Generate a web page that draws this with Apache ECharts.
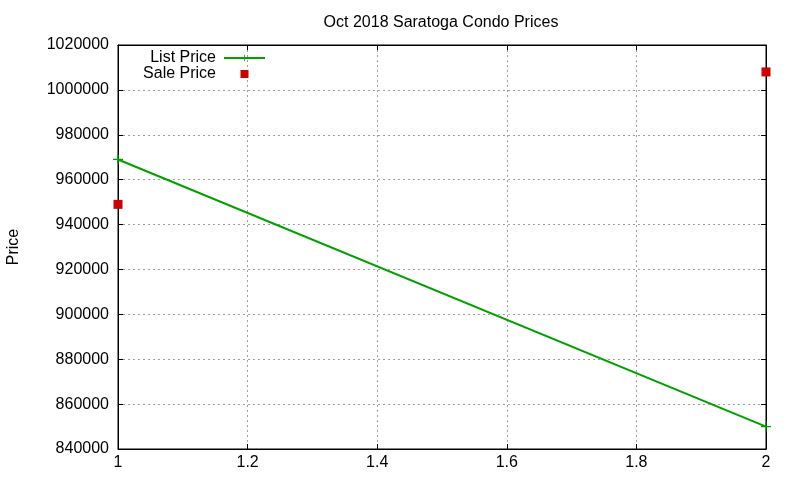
<!DOCTYPE html>
<html>
<head>
<meta charset="utf-8">
<script src="https://cdn.jsdelivr.net/npm/echarts@6/dist/echarts.min.js"></script>
<style>html,body{margin:0;padding:0;background:#fff}#c{width:800px;height:480px}</style>
</head>
<body>
<div id="c"></div>
<script>
const titleText = "Oct 2018 Saratoga Condo Prices";
const xValues = [1, 2];
const listPrice = [969000, 850000];
const salePrice = [949000, 1008000];
const xTicks = [1, 1.2, 1.4, 1.6, 1.8, 2];
const yMin = 840000, yMax = 1020000, yStep = 20000;

const FONT = "Liberation Sans, Arial, sans-serif";
const FS = 16;
const chart = echarts.init(document.getElementById('c'), null, {renderer: 'canvas'});
const gridLine = {show: true, lineStyle: {color: '#a0a0a0', type: [2, 3], width: 1}};
chart.setOption({
  animation: false,
  title: {text: titleText, left: 436, textAlign: 'center', top: 10,
    textStyle: {fontFamily: FONT, fontSize: FS, fontWeight: 'normal', color: '#000'}},
  legend: {
    orient: 'vertical', right: 534, top: 50, align: 'right',
    itemWidth: 41, itemHeight: 8, itemGap: 0, padding: 0,
    textStyle: {fontFamily: FONT, fontSize: FS, color: '#000', padding: [0, 3, 0, 0]},
    data: [{name: 'List Price'}, {name: 'Sale Price', icon: 'path://M0,0H8V8H0Z'}],
    symbolKeepAspect: true
  },
  grid: {left: 118, right: 34, top: 45, bottom: 31, show: true, borderColor: '#000', borderWidth: 1,
    outerBoundsMode: 'none', containLabel: false},
  xAxis: [{
    type: 'value', min: 1, max: 2, interval: 0.2,
    axisLine: {show: true, lineStyle: {color: '#000'}},
    axisTick: {show: true, inside: true, length: 5, lineStyle: {color: '#000'}},
    axisLabel: {fontFamily: FONT, fontSize: FS, color: '#000', margin: 6,
      formatter: v => String(Math.round(v * 10) / 10)},
    splitLine: gridLine
  }, {
    type: 'value', min: 1, max: 2, interval: 0.2, position: 'top',
    axisLine: {show: true, lineStyle: {color: '#000'}},
    axisTick: {show: true, inside: true, length: 5, lineStyle: {color: '#000'}},
    axisLabel: {show: false}, splitLine: {show: false}
  }],
  yAxis: [{
    type: 'value', min: yMin, max: yMax, interval: yStep,
    name: 'Price', nameLocation: 'middle', nameGap: 96, nameRotate: 90,
    nameTextStyle: {fontFamily: FONT, fontSize: FS, color: '#000'},
    axisLine: {show: true, lineStyle: {color: '#000'}},
    axisTick: {show: true, inside: true, length: 5, lineStyle: {color: '#000'}},
    axisLabel: {fontFamily: FONT, fontSize: FS, color: '#000', margin: 9,
      formatter: v => String(v)},
    splitLine: gridLine
  }, {
    type: 'value', min: yMin, max: yMax, interval: yStep, position: 'right',
    axisLine: {show: true, lineStyle: {color: '#000'}},
    axisTick: {show: true, inside: true, length: 5, lineStyle: {color: '#000'}},
    axisLabel: {show: false}, splitLine: {show: false}
  }],
  series: [{
    name: 'List Price', type: 'line',
    data: xValues.map((x, i) => [x, listPrice[i]]),
    symbol: 'path://M0,4.4H10V5.6H0Z M4.4,0H5.6V10H4.4Z', symbolSize: 10, showSymbol: true,
    lineStyle: {color: '#00a000', width: 2}, itemStyle: {color: '#00a000', opacity: 1}
  }, {
    name: 'Sale Price', type: 'scatter',
    data: xValues.map((x, i) => [x, salePrice[i]]),
    symbol: 'rect', symbolSize: 9, itemStyle: {color: '#cc0000', opacity: 1}
  }]
});
</script>
</body>
</html>
